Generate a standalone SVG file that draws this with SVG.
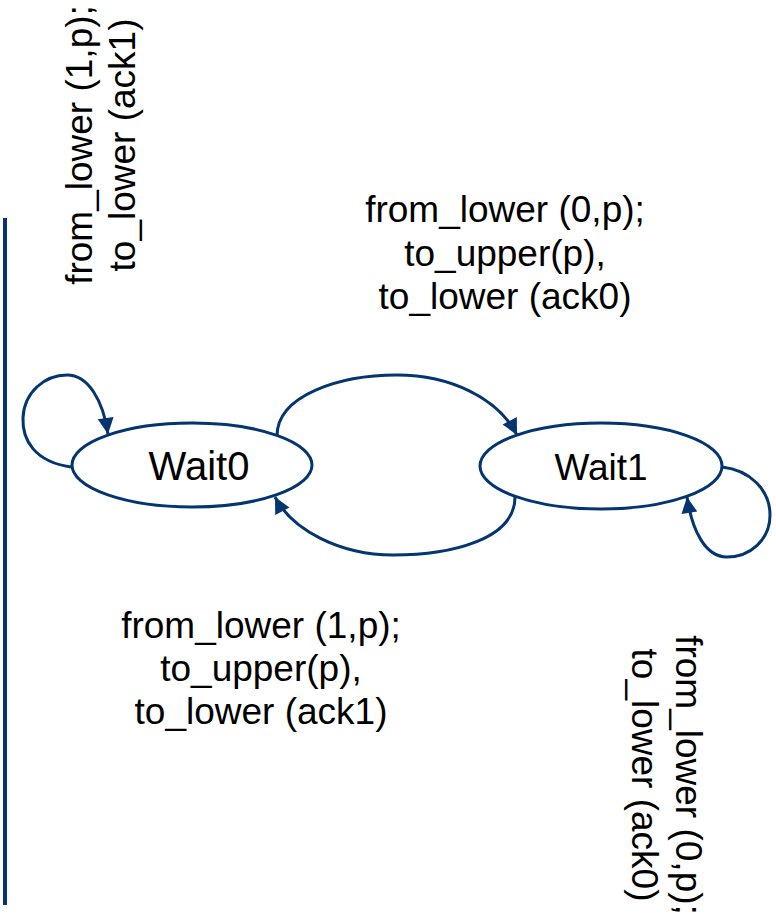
<svg xmlns="http://www.w3.org/2000/svg" width="776" height="914" viewBox="0 0 776 914">
<style>
.st{fill:#ffffff;stroke:#033570;stroke-width:3}
.cn{fill:none;stroke:#033570;stroke-width:3}
.t{font-family:"Liberation Sans",Arial,sans-serif;font-size:37px;fill:#000000;text-anchor:middle}
</style>
<defs>
<marker id="ah" markerUnits="userSpaceOnUse" markerWidth="20" markerHeight="20" viewBox="0 0 20 20" refX="17" refY="10" orient="auto">
<path d="M1,2 L17,10 L1,18 Z" fill="#033570"/>
</marker>
</defs>
<rect width="776" height="914" fill="#ffffff"/>
<line x1="5" y1="218" x2="5" y2="905" stroke="#033570" stroke-width="4"/>
<g id="connectors">
<path class="cn" d="M71,467 C35,462 22,440 23,418 C24,392 45,375 67,375 C88,375 103,400 108,434" marker-end="url(#ah)"/>
<path class="cn" d="M277,436 C277,395 340,375 397,375 C450,375 498,398 517,435" marker-end="url(#ah)"/>
<path class="cn" d="M515,497 C515,540 450,555 393,555 C340,555 292,530 275,497" marker-end="url(#ah)"/>
<path class="cn" d="M722,467 C750,470 770,490 770,515 C770,540 750,557 727,557 C705,557 692,530 687,497" marker-end="url(#ah)"/>
</g>
<g id="wait0">
<ellipse class="st" cx="192" cy="465" rx="120" ry="42"/>
<text class="t" x="199" y="480" style="font-size:40px">Wait0</text>
</g>
<g id="wait1">
<ellipse class="st" cx="601" cy="466" rx="121" ry="43"/>
<text class="t" x="601" y="480">Wait1</text>
</g>
<g id="labels">
<text class="t" x="505" y="222"><tspan x="505">from_lower (0,p);</tspan><tspan x="505" dy="43.5">to_upper(p),</tspan><tspan x="505" dy="43.5">to_lower (ack0)</tspan></text>
<text class="t" x="261" y="638"><tspan x="261">from_lower (1,p);</tspan><tspan x="261" dy="43">to_upper(p),</tspan><tspan x="261" dy="43">to_lower (ack1)</tspan></text>
<text class="t" transform="translate(92,145) rotate(-90)"><tspan x="0" y="0">from_lower (1,p);</tspan><tspan x="0" dy="43">to_lower (ack1)</tspan></text>
<text class="t" transform="translate(676,775) rotate(90)"><tspan x="0" y="0">from_lower (0,p);</tspan><tspan x="0" dy="44">to_lower (ack0)</tspan></text>
</g>
</svg>
